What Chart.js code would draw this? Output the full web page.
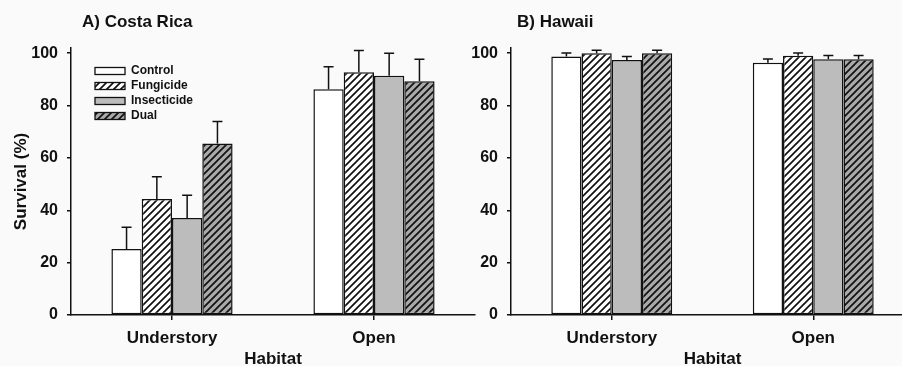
<!DOCTYPE html>
<html>
<head>
<meta charset="utf-8">
<script src="https://cdn.jsdelivr.net/npm/chart.js@4"></script>
<style>
  html, body { margin: 0; padding: 0; }
  body { width: 902px; height: 366px; overflow: hidden; position: relative; background: #fafafa;
         font-family: "Liberation Sans", Arial, sans-serif; }
  .panel { position: absolute; top: 0; height: 366px; }
  #left { left: 0; width: 480px; }
  #right { left: 450px; width: 470px; }
  .ptitle { position: absolute; top: 13px; font-size: 17px; line-height: 17px; font-weight: bold; color: #111; }
</style>
</head>
<body>
<div class="panel" id="left"><canvas id="crChart" width="480" height="366"></canvas></div>
<div class="panel" id="right"><canvas id="hiChart" width="470" height="366"></canvas></div>
<div class="ptitle" style="left:82px">A) Costa Rica</div>
<div class="ptitle" style="left:517px">B) Hawaii</div>
<script>
const habitats = ['Understory', 'Open'];
const treatments = ['Control', 'Fungicide', 'Insecticide', 'Dual'];
const yTicks = [0, 20, 40, 60, 80, 100];

// Costa Rica survival (%) and error (+SE)
const crControl = [25.2, 86.2];
const crFungicide = [44.3, 92.7];
const crInsecticide = [37.1, 91.4];
const crDual = [65.5, 89.3];
const crControlErr = [8.3, 8.6];
const crFungicideErr = [8.5, 8.3];
const crInsecticideErr = [8.6, 8.6];
const crDualErr = [8.4, 8.4];

// Hawaii
const hiControl = [98.8, 96.4];
const hiFungicide = [100, 99.0];
const hiInsecticide = [97.4, 97.7];
const hiDual = [100, 97.7];
const hiControlErr = [1.3, 1.4];
const hiFungicideErr = [1.1, 1.1];
const hiInsecticideErr = [1.4, 1.4];
const hiDualErr = [1.1, 1.4];

function hatch(bg) {
  const n = 7;
  const c = document.createElement('canvas');
  c.width = n; c.height = n;
  const g = c.getContext('2d');
  g.fillStyle = bg;
  g.fillRect(0, 0, n, n);
  g.strokeStyle = '#111';
  g.lineWidth = 1.7;
  g.beginPath();
  g.moveTo(0, n); g.lineTo(n, 0);
  g.moveTo(-1, 1); g.lineTo(1, -1);
  g.moveTo(n - 1, n + 1); g.lineTo(n + 1, n - 1);
  g.stroke();
  return g.createPattern(c, 'repeat');
}

const fills = ['#ffffff', hatch('#ffffff'), '#bcbcbc', hatch('#a9a9a9')];

// upward error bars
const errorBars = {
  id: 'errorBars',
  afterDatasetsDraw(chart) {
    const ctx = chart.ctx;
    const y = chart.scales.y;
    ctx.save();
    ctx.strokeStyle = '#111';
    ctx.lineWidth = 1.5;
    chart.data.datasets.forEach((ds, i) => {
      chart.getDatasetMeta(i).data.forEach((bar, j) => {
        const top = y.getPixelForValue(ds.data[j] + ds.errors[j]);
        ctx.beginPath();
        ctx.moveTo(bar.x, bar.y);
        ctx.lineTo(bar.x, top);
        ctx.moveTo(bar.x - 5, top);
        ctx.lineTo(bar.x + 5, top);
        ctx.stroke();
      });
    });
    ctx.restore();
  }
};

// legend drawn inside the plot area
const innerLegend = {
  id: 'innerLegend',
  afterDraw(chart, args, opts) {
    if (!opts.show) return;
    const ctx = chart.ctx;
    const x0 = chart.chartArea.left + 24;
    ctx.save();
    ctx.font = 'bold 12px "Liberation Sans", Arial, sans-serif';
    ctx.textBaseline = 'middle';
    chart.data.datasets.forEach((ds, i) => {
      const cy = 71 + i * 15;
      ctx.fillStyle = ds.backgroundColor;
      ctx.fillRect(x0, cy - 3.5, 30, 7);
      ctx.strokeStyle = '#111';
      ctx.lineWidth = 1.3;
      ctx.strokeRect(x0, cy - 3.5, 30, 7);
      ctx.fillStyle = '#111';
      ctx.fillText(ds.label, x0 + 36, cy);
    });
    ctx.restore();
  }
};

function makeChart(id, series, errs, opts) {
  const ctx = document.getElementById(id).getContext('2d');
  return new Chart(ctx, {
    type: 'bar',
    data: {
      labels: habitats,
      datasets: treatments.map((t, i) => ({
        label: t,
        data: series[i],
        errors: errs[i],
        backgroundColor: fills[i],
        borderColor: '#111',
        borderWidth: 1.5,
        borderSkipped: false,
        categoryPercentage: 0.6,
        barPercentage: 1.0
      }))
    },
    options: {
      responsive: false,
      animation: false,
      layout: { padding: { top: 48, right: opts.padRight, left: 0, bottom: 0 } },
      scales: {
        x: {
          afterFit: s => { s.height = 51; },
          grid: { drawOnChartArea: false, offset: false, tickLength: 5, color: '#111', lineWidth: 1.5 },
          border: { color: '#111', width: 1.5 },
          ticks: { color: '#111', padding: 8, font: { size: 17, weight: 'bold', family: '"Liberation Sans", Arial' } },
          title: { display: true, text: 'Habitat', color: '#111', padding: { top: 0, bottom: -2 },
                   font: { size: 17, weight: 'bold', family: '"Liberation Sans", Arial', lineHeight: 1 } }
        },
        y: {
          min: 0,
          max: 102,
          afterFit: s => { s.width = opts.yWidth; },
          afterBuildTicks: s => { s.ticks = yTicks.map(v => ({ value: v })); },
          grid: { drawOnChartArea: false, tickLength: 4, color: '#111', lineWidth: 1.5 },
          border: { color: '#111', width: 1.5 },
          ticks: { color: '#111', padding: 9, font: { size: 16, weight: 'bold', family: '"Liberation Sans", Arial' } },
          title: { display: opts.yTitle, text: 'Survival (%)', color: '#111', padding: { top: 11, bottom: 0 },
                   font: { size: 17, weight: 'bold', family: '"Liberation Sans", Arial' } }
        }
      },
      plugins: {
        legend: { display: false },
        tooltip: { enabled: false },
        innerLegend: { show: opts.legend }
      }
    },
    plugins: [errorBars, innerLegend]
  });
}

makeChart('crChart',
  [crControl, crFungicide, crInsecticide, crDual],
  [crControlErr, crFungicideErr, crInsecticideErr, crDualErr],
  { padRight: 5, yWidth: 71, yTitle: true, legend: true });

makeChart('hiChart',
  [hiControl, hiFungicide, hiInsecticide, hiDual],
  [hiControlErr, hiFungicideErr, hiInsecticideErr, hiDualErr],
  { padRight: 6, yWidth: 61, yTitle: false, legend: false });
</script>
</body>
</html>
